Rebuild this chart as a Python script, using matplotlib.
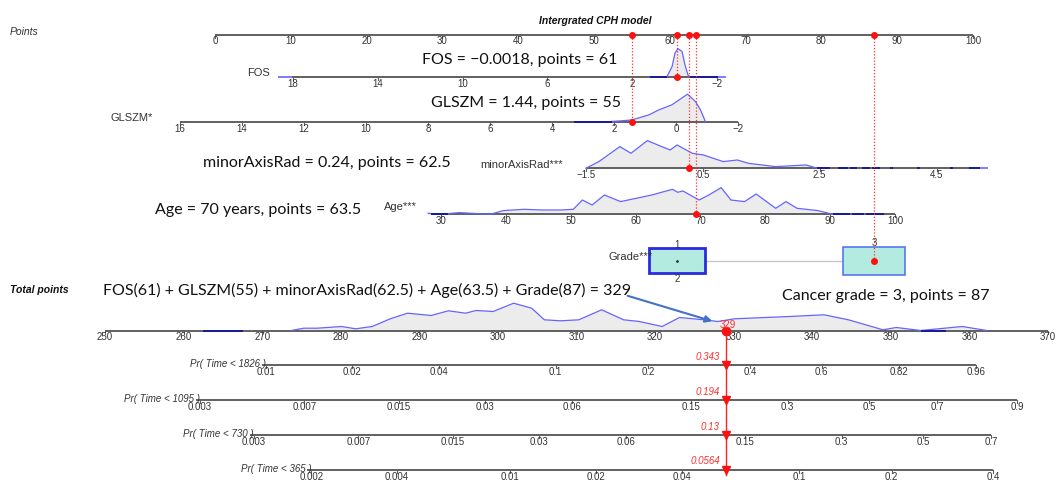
import numpy as np
import matplotlib
matplotlib.use("Agg")
import matplotlib.pyplot as plt
from matplotlib.patches import Rectangle

# nomogram values
points_ticks = [0, 10, 20, 30, 40, 50, 60, 70, 80, 90, 100]
fos_ticks = [18, 14, 10, 6, 2, -2]
glszm_ticks = [16, 14, 12, 10, 8, 6, 4, 2, 0, -2]
minor_ticks = [-1.5, 0.5, 2.5, 4.5]
age_ticks = [30, 40, 50, 60, 70, 80, 90, 100]
total_ticks = [250, 260, 270, 280, 290, 300, 310, 320, 330, 340, 350, 360, 370]

# densities (value, relative height)
fos_dv = [0.36, 0.12, -0.02, -0.16, -0.35, -0.49, -0.63, -0.72]
fos_dh = [0, 10, 23.4, 27.7, 25, 11.7, 1.7, 0]
glszm_dv = [2.07, 1.8, 1.43, 0.88, 0.56, 0.14, -0.18, -0.37, -0.63, -0.79, -0.95]
glszm_dh = [0.3, 0.8, 1.7, 6.7, 11.7, 16.7, 23.4, 27.4, 20, 11.7, 0]
minor_dv = [-1.5, -1.28, -0.92, -0.73, -0.45, -0.27, -0.06, 0.06, 0.32, 0.51, 0.85, 1.09, 1.28, 1.74, 2.27, 2.46]
minor_dh = [0, 6.7, 21.7, 15, 27.7, 23.3, 18.3, 23.3, 15, 13.3, 6.7, 8.3, 5, 1.7, 3.3, 0]
age_dv = [28.0, 30, 32.8, 37.6, 39.6, 42.8, 45.5, 48.5, 50.4, 51.8, 53.3, 55.2, 57.7, 60.1, 62.5, 64, 65.7,
          66.5, 67.3, 69.8, 71.3, 73.2, 74.7, 76.8, 78.6, 81.6, 83.2, 84.9, 88.1, 90.4]
age_dh = [1, 0, 1.7, 0, 3.7, 5, 4.3, 4.3, 5, 14.3, 9.3, 19.3, 12.7, 16, 19.3, 22, 25,
          22, 23.3, 14.3, 19.3, 26.7, 14.3, 12.7, 20.3, 6, 12.7, 6, 3.7, 0]
total_dv = [273.7, 275.3, 277, 280.1, 281.9, 284, 286.3, 288.5, 291.5, 293.7, 295.9, 297.2, 299.4, 302,
            304.3, 305.9, 308, 310.3, 313.2, 316, 318, 320.9, 323.1, 326.2, 328, 330.1, 334, 337.1,
            341.5, 344.6, 349, 350.7, 353.8, 359.1, 362.2]
total_dh = [0, 2.3, 2.3, 4, 1.7, 4, 11.7, 17.3, 15, 19.7, 17.3, 20, 19, 27.3,
            22.3, 10.7, 9.7, 10.7, 20.7, 10.7, 9, 4, 13, 10.7, 9, 11.7, 13, 14,
            15.7, 10.7, 0.7, 3, 0, 4, 0]

# rug-like stretches where the density sits on the axis
fos_rug = [(1.16, 0.36), (-0.72, -2.05)]
fos_rug_light = [(18.7, 18.05), (-2.05, -2.42)]
glszm_rug = [(3.3, 2.07)]
minor_rug = [(2.46, 2.68), (2.82, 2.99), (3.02, 3.14), (3.23, 3.36), (3.4, 3.53), (3.71, 3.76),
             (4.17, 4.22), (4.73, 4.78), (5.05, 5.25)]
minor_rug_light = [(5.25, 5.38)]
age_rug = [(28.5, 31.1), (90.4, 93.0), (93.3, 95.2), (95.5, 98.3)]
total_rug = [(262.5, 267.6), (353.8, 357)]

grade_labels = ["1", "2", "3"]
grade_points = [61, 61, 87]

# the patient
fos_pts, glszm_pts, minor_pts, age_pts, grade_pts = 61, 55, 62.5, 63.5, 87
total_score = 329
pr_labels = ["Pr( Time < 1826 )", "Pr( Time < 1095 )", "Pr( Time < 730 )", "Pr( Time < 365 )"]
pr_at_total = [0.343, 0.194, 0.13, 0.0564]
pr_ticks = [
    [0.01, 0.02, 0.04, 0.1, 0.2, 0.4, 0.6, 0.82, 0.96],
    [0.003, 0.007, 0.015, 0.03, 0.06, 0.15, 0.3, 0.5, 0.7, 0.9],
    [0.003, 0.007, 0.015, 0.03, 0.06, 0.15, 0.3, 0.5, 0.7],
    [0.002, 0.004, 0.01, 0.02, 0.04, 0.1, 0.2, 0.4],
]
pts_per_lp = 15.66  # total points per unit of linear predictor

# ---------------------------------------------------------------
fig = plt.figure(figsize=(10.62, 4.82), dpi=100)
ax = fig.add_axes([0, 0, 1, 1])
ax.set_xlim(0, 1062)
ax.set_ylim(482, 0)
ax.axis("off")

AXC = "#606060"
TXT = "#333333"
LBL = ["Liberation Sans", "DejaVu Sans"]
ANN = ["Lato", "DejaVu Sans"]


def lin(v0, x0, v1, x1):
    return lambda v: x0 + (np.asarray(v, dtype=float) - v0) * (x1 - x0) / (v1 - v0)


px_points = lin(0, 215, 100, 973)
px_fos = lin(18, 293, -2, 717)
px_glszm = lin(16, 180, -2, 738)
px_minor = lin(-1.5, 586, 4.5, 936.5)
px_age = lin(30, 441, 100, 895)
px_total = lin(250, 105, 370, 1048)

Y_POINTS, Y_FOS, Y_GLSZM, Y_MINOR, Y_AGE, Y_GRADE, Y_TOTAL = 34.5, 76.7, 121.7, 168.3, 214.3, 260.7, 330.5
Y_PR = [365, 400, 435, 469.5]


def axis_line(y, x0, x1, tick_x, tick_lab, fs=7):
    ax.plot([x0, x1], [y, y], color=AXC, lw=1.4, solid_capstyle="butt", zorder=3)
    for tx, tl in zip(tick_x, tick_lab):
        ax.plot([tx, tx], [y, y + 3], color=AXC, lw=0.8, zorder=3)
        ax.text(tx, y + 2, tl, ha="center", va="top", fontsize=fs, color=TXT, family=LBL)


def density(y, fx, dv, dh, peak):
    xs = fx(dv)
    h = np.array(dh) / max(dh) * peak
    ax.fill_between(xs, y - h, y, color="#ECECEC", lw=0, zorder=1)
    ax.plot(xs, y - h, color="#6464FF", lw=0.9, zorder=4)


def rug(y, fx, segs, color="#1a1a9a"):
    for a, b in segs:
        ax.plot(fx([a, b]), [y, y], color=color, lw=1.4, solid_capstyle="butt", zorder=4)


def fmt(v):
    return ("%g" % v).replace("-", "\u2212")


# title and points row
ax.text(595, 20.7, "Intergrated CPH model", ha="center", va="center", fontsize=7.5,
        fontweight="bold", fontstyle="italic", color="#111111", family=LBL)
ax.text(10, 31.7, "Points", ha="left", va="center", fontsize=7.5, fontstyle="italic", color=TXT, family=LBL)
axis_line(Y_POINTS, px_points(0), px_points(100), px_points(points_ticks), [str(t) for t in points_ticks])

# FOS
density(Y_FOS, px_fos, fos_dv, fos_dh, 28)
axis_line(Y_FOS, px_fos(18.7), px_fos(-2.38), px_fos(fos_ticks), [fmt(t) for t in fos_ticks])
rug(Y_FOS, px_fos, fos_rug)
rug(Y_FOS, px_fos, fos_rug_light, color="#8080ff")
ax.text(270, 73.3, "FOS", ha="right", va="center", fontsize=8, color=TXT, family=LBL)

# GLSZM
density(Y_GLSZM, px_glszm, glszm_dv, glszm_dh, 27.5)
axis_line(Y_GLSZM, px_glszm(16), px_glszm(-2), px_glszm(glszm_ticks), [fmt(t) for t in glszm_ticks])
rug(Y_GLSZM, px_glszm, glszm_rug)
ax.text(153, 118.3, "GLSZM*", ha="right", va="center", fontsize=8, color=TXT, family=LBL)

# minorAxisRad
density(Y_MINOR, px_minor, minor_dv, minor_dh, 27.7)
axis_line(Y_MINOR, px_minor(-1.5), px_minor(5.1), px_minor(minor_ticks), [fmt(t) for t in minor_ticks])
rug(Y_MINOR, px_minor, minor_rug)
rug(Y_MINOR, px_minor, minor_rug_light, color="#8080ff")
ax.text(563, 165, "minorAxisRad***", ha="right", va="center", fontsize=8, color=TXT, family=LBL)

# Age
density(Y_AGE, px_age, age_dv, age_dh, 26.7)
axis_line(Y_AGE, px_age(28.5), px_age(100), px_age(age_ticks), [str(t) for t in age_ticks])
rug(Y_AGE, px_age, age_rug)
ax.text(417, 207.3, "Age***", ha="right", va="center", fontsize=8, color=TXT, family=LBL)

# Grade boxes
g12 = px_points(grade_points[0])
g3 = px_points(grade_points[2])
ax.plot([g12 + 28, g3 - 31], [Y_GRADE, Y_GRADE], color="#c8c8c8", lw=1, zorder=2)
ax.add_patch(Rectangle((g12 - 28, Y_GRADE - 12.7), 56, 25, facecolor="#b3ebe0",
                       edgecolor="#2a2ae0", lw=2, zorder=3))
ax.add_patch(Rectangle((g3 - 31, Y_GRADE - 14), 62, 28, facecolor="#b3ebe0",
                       edgecolor="#4a6cf0", lw=1.1, zorder=3))
ax.plot([g12], [Y_GRADE], marker="o", ms=1, color="#333333", zorder=4)
ax.text(g12, Y_GRADE - 15.7, grade_labels[0], ha="center", va="center", fontsize=7, color=TXT, family=LBL)
ax.text(g12, Y_GRADE + 18.6, grade_labels[1], ha="center", va="center", fontsize=7, color=TXT, family=LBL)
ax.text(g3, Y_GRADE - 18, grade_labels[2], ha="center", va="center", fontsize=7, color=TXT, family=LBL)
ax.text(653, 256.7, "Grade***", ha="right", va="center", fontsize=8, color=TXT, family=LBL, zorder=5)

# red read-offs from each variable to the points axis
for p, yrow in [(fos_pts, Y_FOS), (glszm_pts, Y_GLSZM), (minor_pts, Y_MINOR),
                (age_pts, Y_AGE), (grade_pts, Y_GRADE)]:
    xp = px_points(p)
    ax.plot([xp, xp], [Y_POINTS, yrow], color="#ff3030", lw=0.9, ls=(0, (1, 1.5)), zorder=5)
    ax.plot([xp, xp], [Y_POINTS, yrow], ls="none", marker="o", ms=4, color="#ff1010", zorder=6)

# total points
ax.text(10, 290, "Total points", ha="left", va="center", fontsize=7.5, fontweight="bold",
        fontstyle="italic", color="#111111", family=LBL)
density(Y_TOTAL, px_total, total_dv, total_dh, 27.3)
axis_line(Y_TOTAL, px_total(250), px_total(370), px_total(total_ticks), [str(t) for t in total_ticks])
rug(Y_TOTAL, px_total, total_rug)

xt = px_total(total_score)
ax.plot([xt], [Y_TOTAL], marker="o", ms=6, color="#ff1010", zorder=7)
ax.text(xt + 2, Y_TOTAL - 5, str(total_score), ha="center", va="center", fontsize=7,
        color="#ff3030", family=LBL, zorder=7)


# probability axes
def cll(p):
    return np.log(-np.log(1 - np.asarray(p, dtype=float)))


ax.plot([xt, xt], [Y_TOTAL, Y_PR[-1] + 5], color="#ff2020", lw=1, zorder=6)
for lab, p0, ticks, y in zip(pr_labels, pr_at_total, pr_ticks, Y_PR):
    tp = total_score + pts_per_lp * (cll(ticks) - cll(p0))
    tx = px_total(tp)
    axis_line(y, tx[0] - 4, tx[-1], tx, [fmt(t) for t in ticks])
    ax.text(tx[0], y - 1, lab, ha="right", va="center", fontsize=7, fontstyle="italic",
            color=TXT, family=LBL, zorder=5)
    ax.plot([xt], [y], marker="v", ms=6, color="#ff1010", zorder=7)
    ax.text(xt - 6, y - 8, fmt(p0), ha="right", va="center", fontsize=7, fontstyle="italic",
            color="#ff3030", family=LBL, zorder=7)

# worked-example annotations
ann = dict(ha="left", va="center", fontsize=11.5, color="#111111", family=ANN, zorder=8)
ax.text(422, 60, "FOS = \u22120.0018, points = %g" % fos_pts, **ann)
ax.text(431, 103.3, "GLSZM = 1.44, points = %g" % glszm_pts, **ann)
ax.text(203, 163.3, "minorAxisRad = 0.24, points = %g" % minor_pts, **ann)
ax.text(155, 210, "Age = 70 years, points = %g" % age_pts, **ann)
ax.text(103, 290, "FOS(%g) + GLSZM(%g) + minorAxisRad(%g) + Age(%g) + Grade(%g) = %g"
        % (fos_pts, glszm_pts, minor_pts, age_pts, grade_pts, total_score), **ann)
ax.text(782, 296, "Cancer grade = 3, points = %g" % grade_pts, **ann)
ax.annotate("", xy=(715, 322), xytext=(625, 295),
            arrowprops=dict(arrowstyle="-|>", color="#4472c4", lw=1.5, mutation_scale=10), zorder=8)

fig.savefig("out.png", dpi=100)
